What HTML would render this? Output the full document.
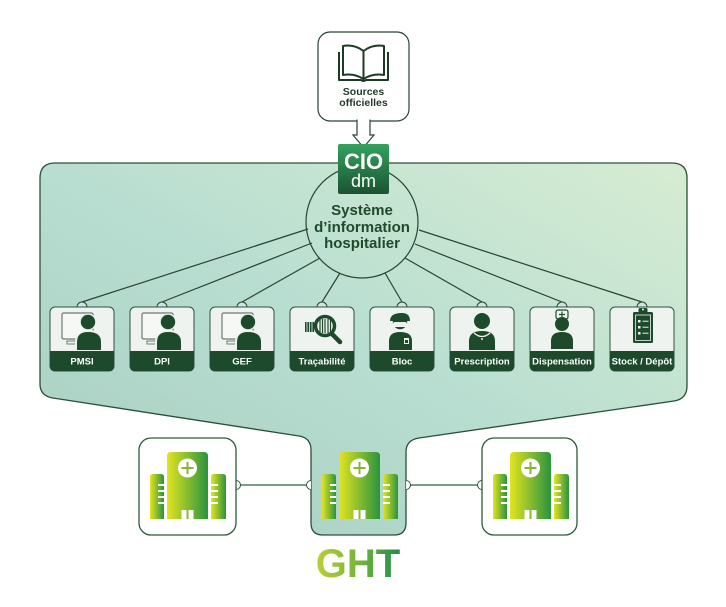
<!DOCTYPE html>
<html><head><meta charset="utf-8"><style>
html,body{margin:0;padding:0;background:#fff;}
svg{display:block;}
text{font-family:"Liberation Sans",sans-serif;}
</style></head><body>
<svg width="726" height="607" viewBox="0 0 726 607" xmlns="http://www.w3.org/2000/svg">
<defs>
<linearGradient id="pg" x1="0" y1="1" x2="1" y2="0">
<stop offset="0" stop-color="#a6cdbf"/>
<stop offset="0.5" stop-color="#b8ded1"/>
<stop offset="1" stop-color="#d7ecd2"/>
</linearGradient>
<linearGradient id="hg" x1="0" y1="0" x2="1" y2="0">
<stop offset="0" stop-color="#e2e520"/>
<stop offset="1" stop-color="#2b933f"/>
</linearGradient>
<linearGradient id="lg" x1="0" y1="0" x2="0" y2="1">
<stop offset="0" stop-color="#33a35f"/>
<stop offset="1" stop-color="#1a5331"/>
</linearGradient>
<linearGradient id="tg" gradientUnits="userSpaceOnUse" x1="318" y1="0" x2="398" y2="0">
<stop offset="0" stop-color="#b9cd38"/>
<stop offset="0.5" stop-color="#78b43c"/>
<stop offset="1" stop-color="#24904a"/>
</linearGradient>
<g id="hosp">
<path d="M11,81 V39 Q11,36 14,36 H22 Q25,36 25,39 V81 Z" fill="url(#hg)"/>
<path d="M28,81 V18 Q28,14 32,14 H65 Q69,14 69,18 V81 Z" fill="url(#hg)"/>
<path d="M72,81 V39 Q72,36 75,36 H84 Q87,36 87,39 V81 Z" fill="url(#hg)"/>
<g fill="#fff">
<rect x="19" y="46" width="6" height="2"/><rect x="19" y="52" width="6" height="2"/><rect x="19" y="58" width="6" height="2"/><rect x="19" y="64" width="6" height="2"/>
<rect x="72" y="46" width="7" height="2"/><rect x="72" y="52" width="7" height="2"/><rect x="72" y="58" width="7" height="2"/><rect x="72" y="64" width="7" height="2"/>
<circle cx="48.5" cy="30" r="9.5"/>
<rect x="42.5" y="72" width="5" height="9"/><rect x="49.5" y="72" width="5" height="9"/>
</g>
<path d="M48.5,24 V36 M42.5,30 H54.5" stroke="#86b634" stroke-width="2"/>
</g>
</defs>

<!-- main panel -->
<path d="M40,178 Q40,163 55,163 L672,163 Q687,163 687,178 L687,386 Q687,399 674,401 L419,438 Q406,440 406,452 L406,523 Q406,535 394,535 L323,535 Q311,535 311,523 L311,450 Q311,438 299,436 L53,398 Q40,396 40,384 Z" fill="url(#pg)" stroke="#2a5038" stroke-width="1.3"/>

<!-- connector lines -->
<g stroke="#2a4433" stroke-width="1.2" fill="none">
<line x1="308" y1="229" x2="82" y2="302"/>
<line x1="312" y1="243" x2="162" y2="302"/>
<line x1="320" y1="258" x2="242" y2="302"/>
<line x1="340" y1="273" x2="322" y2="302"/>
<line x1="385" y1="273" x2="402" y2="302"/>
<line x1="405" y1="258" x2="482" y2="302"/>
<line x1="415" y1="244" x2="562" y2="302"/>
<line x1="419" y1="230" x2="642" y2="302"/>
</g>
<circle cx="362" cy="222" r="56" fill="none" stroke="#2a4433" stroke-width="1.2"/>
<g fill="#1f4a2c" font-weight="bold" font-size="15" text-anchor="middle">
<text x="362" y="215">Système</text>
<text x="362" y="232">d’information</text>
<text x="362" y="248">hospitalier</text>
</g>

<!-- module boxes -->
<g>
<g stroke="#2a4433" stroke-width="1" fill="#cfe4dc">
<path d="M77,307 A5,5 0 0 1 87,307"/><path d="M157,307 A5,5 0 0 1 167,307"/><path d="M237,307 A5,5 0 0 1 247,307"/><path d="M317,307 A5,5 0 0 1 327,307"/>
<path d="M397,307 A5,5 0 0 1 407,307"/><path d="M477,307 A5,5 0 0 1 487,307"/><path d="M557,307 A5,5 0 0 1 567,307"/><path d="M637,307 A5,5 0 0 1 647,307"/>
</g>
<g fill="#eef3ef" stroke="#2f5040" stroke-width="1">
<rect x="50" y="307" width="64" height="64" rx="5"/><rect x="130" y="307" width="64" height="64" rx="5"/><rect x="210" y="307" width="64" height="64" rx="5"/><rect x="290" y="307" width="64" height="64" rx="5"/>
<rect x="370" y="307" width="64" height="64" rx="5"/><rect x="450" y="307" width="64" height="64" rx="5"/><rect x="530" y="307" width="64" height="64" rx="5"/><rect x="610" y="307" width="64" height="64" rx="5"/>
</g>
<g fill="#1c4a2b">
<path d="M50,351 H114 V366 Q114,371 109,371 H55 Q50,371 50,366 Z"/>
<path d="M130,351 H194 V366 Q194,371 189,371 H135 Q130,371 130,366 Z"/>
<path d="M210,351 H274 V366 Q274,371 269,371 H215 Q210,371 210,366 Z"/>
<path d="M290,351 H354 V366 Q354,371 349,371 H295 Q290,371 290,366 Z"/>
<path d="M370,351 H434 V366 Q434,371 429,371 H375 Q370,371 370,366 Z"/>
<path d="M450,351 H514 V366 Q514,371 509,371 H455 Q450,371 450,366 Z"/>
<path d="M530,351 H594 V366 Q594,371 589,371 H535 Q530,371 530,366 Z"/>
<path d="M610,351 H674 V366 Q674,371 669,371 H615 Q610,371 610,366 Z"/>
</g>
<g fill="#fff" font-weight="bold" font-size="9.5" text-anchor="middle">
<text x="82" y="364.5">PMSI</text><text x="162" y="364.5">DPI</text><text x="242" y="364.5">GEF</text><text x="322" y="364.5">Traçabilité</text>
<text x="402" y="364.5">Bloc</text><text x="482" y="364.5">Prescription</text><text x="562" y="364.5">Dispensation</text><text x="642" y="364.5">Stock / Dépôt</text>
</g>
</g>

<!-- monitor+person icons -->
<g id="pc">
<rect x="62" y="313" width="31" height="26" rx="1.5" fill="#f6f8f6" stroke="#6d7a71" stroke-width="1.2"/>
<rect x="67" y="341" width="11" height="3" fill="none" stroke="#6d7a71" stroke-width="1"/>
<circle cx="88" cy="322" r="8.5" fill="#eef3ef"/>
<circle cx="88" cy="322" r="7.2" fill="#1c4a2b"/>
<path d="M75,350 V342 Q75,330 88,330 Q103,330 103,342 V350 Z" fill="#eef3ef"/>
<path d="M77,350 V342 Q77,332 88,332 Q101,332 101,342 V350 Z" fill="#1c4a2b"/>
</g>
<use href="#pc" x="80"/>
<use href="#pc" x="160"/>

<!-- Traçabilité -->
<g>
<rect x="305" y="322" width="9" height="10" fill="#1c4a2b"/>
<g stroke="#eef3ef" stroke-width="0.8"><line x1="307" y1="322" x2="307" y2="332"/><line x1="309.5" y1="322" x2="309.5" y2="332"/><line x1="312" y1="322" x2="312" y2="332"/></g>
<line x1="331" y1="333" x2="340" y2="342" stroke="#1c4a2b" stroke-width="4.5" stroke-linecap="round"/>
<circle cx="325" cy="326" r="9.5" fill="#eef3ef" stroke="#1c4a2b" stroke-width="3.5"/>
<g stroke="#1c4a2b" stroke-width="1.2"><line x1="320" y1="320" x2="320" y2="332"/><line x1="322.5" y1="319" x2="322.5" y2="333"/><line x1="325" y1="319" x2="325" y2="333"/><line x1="328" y1="319" x2="328" y2="333"/><line x1="330.5" y1="320" x2="330.5" y2="332"/></g>
</g>

<!-- Bloc -->
<g fill="#1c4a2b">
<path d="M390,321 Q390,313 402,313 Q410,313 410,321 Z"/>
<circle cx="400" cy="322" r="7.2"/>
<rect x="393" y="322" width="14" height="5" rx="2" fill="#eef3ef"/>
<path d="M389,350 V341 Q389,332 400,332 Q412,332 412,341 V350 Z"/>
<rect x="404" y="338" width="5" height="6" fill="#eef3ef"/>
<rect x="405" y="340" width="3" height="3" fill="#1c4a2b"/>
</g>

<!-- Prescription -->
<g fill="#1c4a2b">
<circle cx="482" cy="321" r="8"/>
<path d="M469,350 V341 Q469,331 482,331 Q495,331 495,341 V350 Z"/>
<path d="M474,333 Q482,340 490,333" fill="none" stroke="#eef3ef" stroke-width="1.3"/>
<circle cx="482" cy="339" r="1" fill="#eef3ef"/>
</g>

<!-- Dispensation -->
<g>
<rect x="556" y="310" width="12" height="9" rx="2" fill="#eef3ef" stroke="#1c4a2b" stroke-width="1.2"/>
<path d="M562,311.5 V317.5 M559,314.5 H565" stroke="#1c4a2b" stroke-width="1.2"/>
<circle cx="562" cy="324" r="7" fill="#1c4a2b"/>
<path d="M551,349 V341 Q551,332 562,332 Q573,332 573,341 V349 Z" fill="#1c4a2b"/>
</g>

<!-- Stock -->
<g>
<rect x="633" y="312" width="20" height="31" rx="1.5" fill="#1c4a2b"/>
<rect x="635.5" y="315" width="15" height="25.5" fill="none" stroke="#eef3ef" stroke-width="0.8"/>
<rect x="638.5" y="308" width="9" height="6" rx="1.5" fill="#1c4a2b"/>
<circle cx="643" cy="309.5" r="1" fill="#eef3ef"/>
<g fill="#eef3ef"><rect x="638" y="320" width="2.5" height="2.5"/><rect x="638" y="326" width="2.5" height="2.5"/><rect x="638" y="332" width="2.5" height="2.5"/></g>
<g stroke="#eef3ef" stroke-width="1"><line x1="642.5" y1="321.2" x2="648.5" y2="321.2"/><line x1="642.5" y1="327.2" x2="648.5" y2="327.2"/><line x1="642.5" y1="333.2" x2="648.5" y2="333.2"/></g>
</g>

<!-- hospital connectors -->
<g stroke="#7f9a88" stroke-width="2"><line x1="238" y1="485" x2="309" y2="485"/><line x1="408" y1="485" x2="480" y2="485"/></g>
<g fill="#fff" stroke="#2d5a3c" stroke-width="1">
<path d="M236,480.5 A4.5,4.5 0 0 1 236,489.5"/>
<path d="M311,480.5 A4.5,4.5 0 0 0 311,489.5"/>
<path d="M406,480.5 A4.5,4.5 0 0 1 406,489.5"/>
<path d="M482,480.5 A4.5,4.5 0 0 0 482,489.5"/>
</g>

<!-- hospitals -->
<rect x="139" y="438" width="97" height="97" rx="12" fill="#fff" stroke="#2d5a3c" stroke-width="1.3"/>
<rect x="482" y="438" width="95" height="97" rx="12" fill="#fff" stroke="#2d5a3c" stroke-width="1.3"/>
<use href="#hosp" x="139" y="438"/>
<use href="#hosp" x="311" y="438"/>
<use href="#hosp" x="482" y="438"/>

<text x="358" y="577" font-size="40" font-weight="bold" fill="url(#tg)" text-anchor="middle">GHT</text>

<!-- sources -->
<rect x="318" y="32" width="91" height="89" rx="12" fill="#fff" stroke="#2a4433" stroke-width="1.2"/>
<path d="M357,119.5 V135 H353 L363.5,147.5 L374,135 H370 V119.5" fill="#fff" stroke="#2a4433" stroke-width="1.2"/>
<g fill="none" stroke="#1c3a26" stroke-width="2" stroke-linejoin="round">
<path d="M339,52 V80 H361 Q363.5,82 366,80 H388 V52"/>
<path d="M363.5,51 Q354,44 343,46 V75 Q354,73 363.5,79 Z"/>
<path d="M363.5,51 Q373,44 384,46 V75 Q373,73 363.5,79 Z"/>
</g>
<g fill="#1f3a28" font-weight="bold" font-size="10.5" text-anchor="middle">
<text x="363.5" y="95">Sources</text>
<text x="363.5" y="106">officielles</text>
</g>

<!-- logo -->
<rect x="338" y="144" width="51" height="50" rx="2" fill="url(#lg)"/>
<text x="363.5" y="169" font-size="22" font-weight="bold" fill="#fff" text-anchor="middle">CIO</text>
<text x="363.5" y="187" font-size="18" fill="#fff" text-anchor="middle">dm</text>
</svg>
</body></html>
